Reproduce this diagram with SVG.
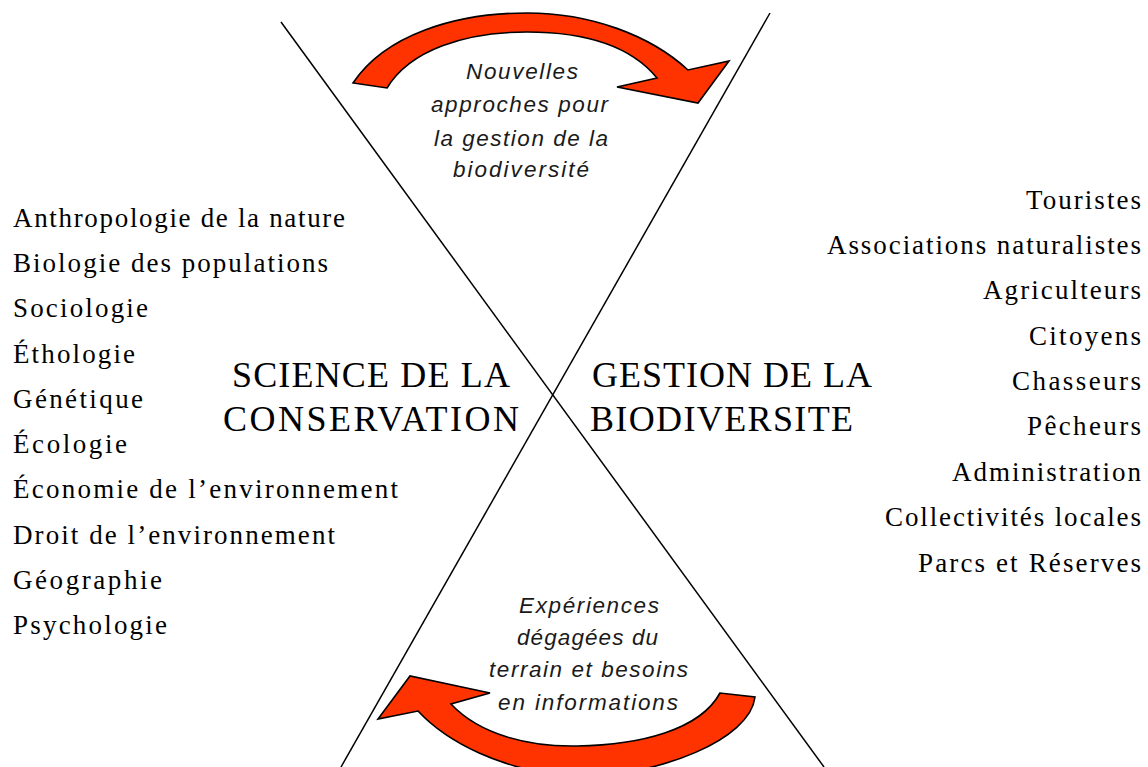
<svg xmlns="http://www.w3.org/2000/svg" width="1148" height="767" viewBox="0 0 1148 767">
<style>
.list{font-family:"Liberation Serif","Times New Roman",serif;font-size:27px;fill:#000}
.big{font-family:"Liberation Serif","Times New Roman",serif;font-size:36px;fill:#000}
.it{font-family:"Liberation Sans",Arial,sans-serif;font-size:22.5px;font-style:italic;fill:#1a1a1a}
.ln{stroke:#000;stroke-width:1.5;fill:none}
.arr{fill:#FF3300;stroke:#000;stroke-width:1.6;stroke-linejoin:miter}
</style>
<rect width="1148" height="767" fill="#fff"/>
<g id="connectors">
<line class="ln" x1="281" y1="22" x2="824" y2="767"/>
<line class="ln" x1="770" y1="13" x2="341" y2="767"/>
</g>
<g id="arrow-top">
<path class="arr" d="M353,83 C385,35 455,13 527,13 C590,13 650,35 688,70 L729,61 L698,103 L617,87 L657,78 C630,45 585,32 527,32 C465,32 410,50 387,88 Z"/>
</g>
<g id="arrow-bottom">
<path class="arr" d="M755,697 C750,740 660,775 580,777 C500,772 445,740 418,711 L378,719 L410,676 L490,693 L451,704 C480,735 530,747 577,746 C640,745 700,730 720,693 Z"/>
</g>
<g id="label-top">
<text class="it" x="466" y="79" textLength="112" lengthAdjust="spacing">Nouvelles</text>
<text class="it" x="431" y="112" textLength="177" lengthAdjust="spacing">approches pour</text>
<text class="it" x="434" y="146" textLength="174" lengthAdjust="spacing">la gestion de la</text>
<text class="it" x="453" y="177" textLength="136" lengthAdjust="spacing">biodiversité</text>
</g>
<g id="label-bottom">
<text class="it" x="519" y="613" textLength="140" lengthAdjust="spacing">Expériences</text>
<text class="it" x="517" y="645" textLength="141" lengthAdjust="spacing">dégagées du</text>
<text class="it" x="489" y="677" textLength="199" lengthAdjust="spacing">terrain et besoins</text>
<text class="it" x="498" y="710" textLength="180" lengthAdjust="spacing">en informations</text>
</g>
<g id="science">
<text class="big" x="232" y="387" textLength="278" lengthAdjust="spacing">SCIENCE DE LA</text>
<text class="big" x="223" y="431" textLength="296" lengthAdjust="spacing">CONSERVATION</text>
</g>
<g id="gestion">
<text class="big" x="592" y="387" textLength="280" lengthAdjust="spacing">GESTION DE LA</text>
<text class="big" x="590" y="431" textLength="263" lengthAdjust="spacing">BIODIVERSITE</text>
</g>
<g id="disciplines">
<text class="list" x="13" y="227" textLength="332" lengthAdjust="spacing">Anthropologie de la nature</text>
<text class="list" x="13" y="272" textLength="315" lengthAdjust="spacing">Biologie des populations</text>
<text class="list" x="13" y="317" textLength="135" lengthAdjust="spacing">Sociologie</text>
<text class="list" x="13" y="363" textLength="122" lengthAdjust="spacing">Éthologie</text>
<text class="list" x="13" y="408" textLength="130" lengthAdjust="spacing">Génétique</text>
<text class="list" x="13" y="453" textLength="114" lengthAdjust="spacing">Écologie</text>
<text class="list" x="13" y="498" textLength="385" lengthAdjust="spacing">Économie de l’environnement</text>
<text class="list" x="13" y="544" textLength="322" lengthAdjust="spacing">Droit de l’environnement</text>
<text class="list" x="13" y="589" textLength="149" lengthAdjust="spacing">Géographie</text>
<text class="list" x="13" y="634" textLength="154" lengthAdjust="spacing">Psychologie</text>
</g>
<g id="acteurs">
<text class="list" x="1026" y="209" textLength="115" lengthAdjust="spacing">Touristes</text>
<text class="list" x="827" y="254" textLength="314" lengthAdjust="spacing">Associations naturalistes</text>
<text class="list" x="983" y="299" textLength="158" lengthAdjust="spacing">Agriculteurs</text>
<text class="list" x="1029" y="345" textLength="112" lengthAdjust="spacing">Citoyens</text>
<text class="list" x="1012" y="390" textLength="129" lengthAdjust="spacing">Chasseurs</text>
<text class="list" x="1027" y="435" textLength="114" lengthAdjust="spacing">Pêcheurs</text>
<text class="list" x="952" y="481" textLength="189" lengthAdjust="spacing">Administration</text>
<text class="list" x="885" y="526" textLength="256" lengthAdjust="spacing">Collectivités locales</text>
<text class="list" x="918" y="572" textLength="223" lengthAdjust="spacing">Parcs et Réserves</text>
</g>
</svg>
